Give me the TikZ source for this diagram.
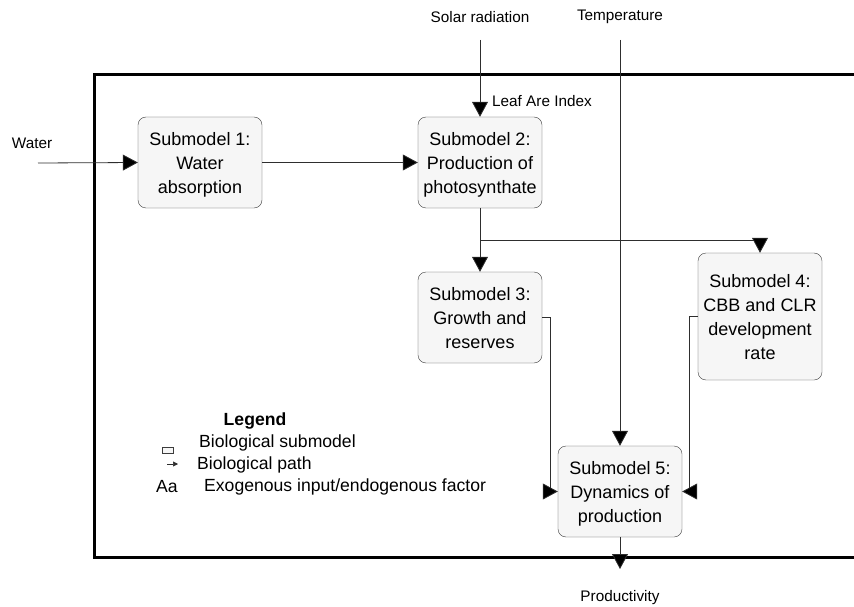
\documentclass[tikz,border=0pt]{standalone}
\usepackage{fontspec}
\setmainfont{Liberation Sans}
\usetikzlibrary{arrows.meta, positioning, calc}

\definecolor{boxfill}{HTML}{F6F6F6}
\definecolor{boxline}{HTML}{3C3C3C}
\definecolor{wire}{HTML}{2E2E2E}

\begin{document}
\begin{tikzpicture}[
		x=1pt, y=-1pt,
		every node/.style={align=center, text=black},
		submodel/.style={draw=boxline, fill=boxfill, rounded corners=8pt, minimum width=124pt, minimum height=91pt, inner sep=2pt, font=\fontsize{18}{24}\selectfont, text depth=-10pt},
		label text/.style={font=\fontsize{15.3}{18}\selectfont},
		legend text/.style={font=\fontsize{17.6}{20}\selectfont, anchor=west, inner sep=0pt},
		arrow/.style={-{Triangle[length=15pt, width=16pt, fill=black]}, draw=wire, line width=0.8pt},
		border/.style={line width=3pt, black}
		]
		\useasboundingbox (0,0) rectangle (854,607);
		
		% Model frame
		\draw[border] (860,75) -- (94,75) -- (94,557) -- (860,557);
		
		% Submodels
		\node[submodel] (sub1) at (200,162.5) {Submodel 1:\\Water\\absorption};
		\node[submodel] (sub2) at (480,162.5) {Submodel 2:\\Production of\\photosynthate};
		\node[submodel] (sub3) at (480,317.5) {Submodel 3:\\Growth and\\reserves};
		\node[submodel, minimum height=127pt] (sub4) at (760,316.5) {Submodel 4:\\CBB and CLR\\development\\rate};
		\node[submodel] (sub5) at (620,491.5) {Submodel 5:\\Dynamics of\\production};
		
		% Inputs and outputs
		\node[label text] (water) at (32,143) {Water};
		\node[label text] (solar) at (480,17) {Solar radiation};
		\node[label text] (temp) at (620,17) {Temperature};
		\node[label text, anchor=west, inner sep=0pt] (lai) at (492,101) {Leaf Are Index};
		\node[label text] (prod) at (620,598) {Productivity};
		\coordinate (waterin) at (38,163);
		\coordinate (solarin) at (480,40);
		\coordinate (tempin) at (620,40);
		\coordinate (split) at (480,240);
		\coordinate (prodout) at (620,569);
		
		% Paths
		\draw[arrow] (waterin) -- (sub1.west);
		\draw[arrow] (sub1.east) -- (sub2.west);
		\draw[arrow] (solarin) -- (sub2.north);
		\draw[arrow] (sub2.south) -- (sub3.north);
		\draw[arrow] (split) -| (sub4.north);
		\draw[arrow] (tempin) -- (sub5.north);
		\draw[arrow] (sub3.east) -- ++(8,0) |- (sub5.west);
		\draw[arrow] (sub4.west) -- ++(-8,0) |- (sub5.east);
		\draw[arrow] (sub5.south) -- (prodout);
		
		% Legend
		\node[font=\fontsize{17.6}{20}\selectfont\bfseries] (legend) at (255,421) {Legend};
		\node[draw=boxline, fill=boxfill, minimum width=11pt, minimum height=6pt, inner sep=0pt] (legbox) at (167.5,450) {};
		\node[legend text] (legsub) at (199,443) {Biological submodel};
		\coordinate (legpatha) at (167,464);
		\coordinate (legpathb) at (178,464);
		\draw[-{Triangle[length=5pt, width=5pt]}, draw=wire, line width=0.6pt] (legpatha) -- (legpathb);
		\node[legend text] (legpath) at (197,465) {Biological path};
		\node[font=\fontsize{17.6}{20}\selectfont] (legaa) at (167,487) {Aa};
		\node[legend text] (legexo) at (204,487) {Exogenous input/endogenous factor};
		
	\end{tikzpicture}
\end{document}
